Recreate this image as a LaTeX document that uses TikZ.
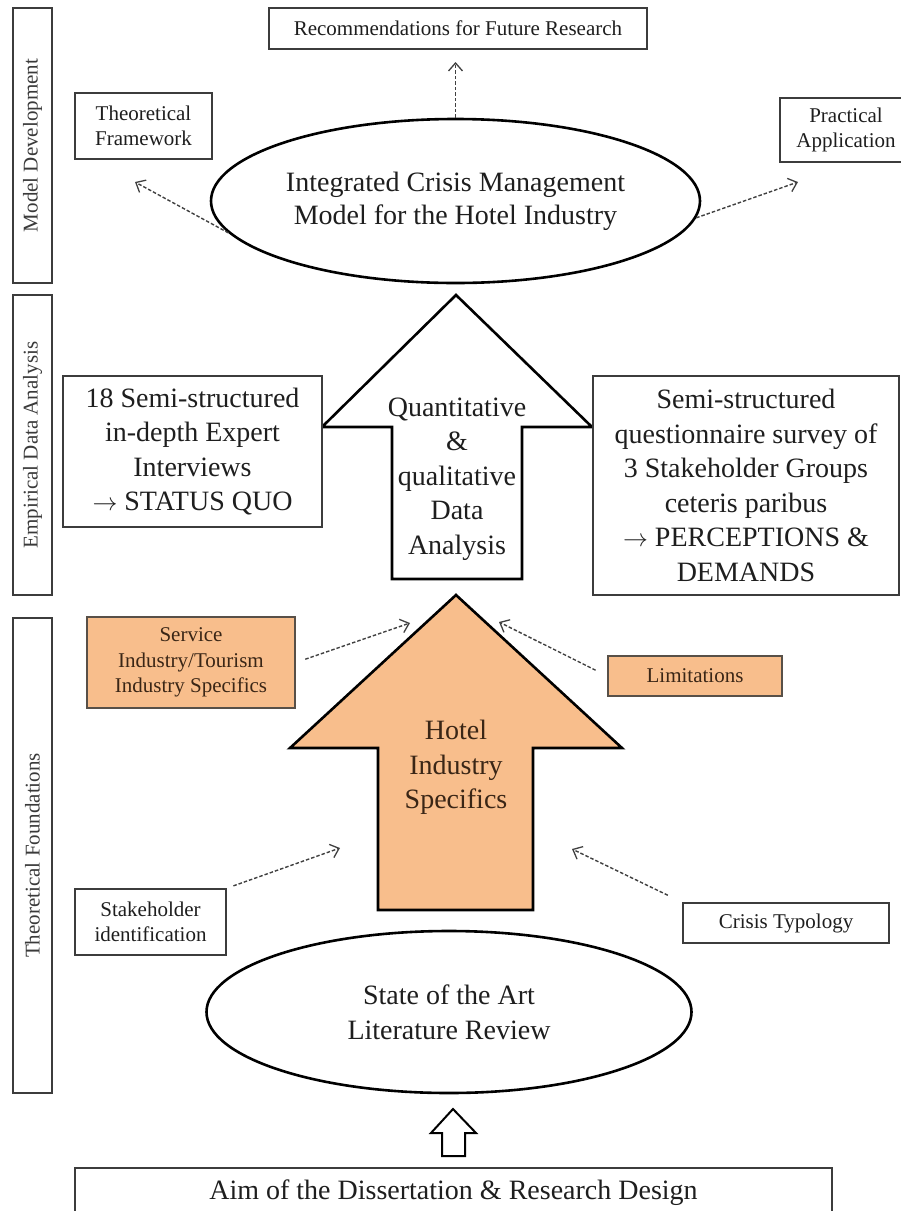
\documentclass[tikz,border=0pt]{standalone}
\usepackage{fontspec}
\setmainfont{Liberation Serif}
\usetikzlibrary{shapes.geometric,arrows.meta}
\definecolor{peach}{HTML}{F8BE8C}
\definecolor{peachtext}{HTML}{3A2616}
\definecolor{frame}{HTML}{3C3C3C}
\definecolor{ink}{HTML}{1E1E1E}
\definecolor{sidetext}{HTML}{3A3A3A}

\begin{document}
\begin{tikzpicture}[x=1pt,y=-1pt,
  big/.style={font=\fontsize{28}{34.5}\selectfont},
  small/.style={font=\fontsize{21}{25.5}\selectfont},
  box/.style={draw=frame, line width=1.6pt, fill=white, text=ink, align=center, inner sep=0pt},
  peachbox/.style={box, fill=peach, text=peachtext, draw=frame!85!peach},
  bandbox/.style={draw=frame, line width=1.6pt, fill=white},
  bandlabel/.style={small, text=sidetext, rotate=90},
  oval/.style={ellipse, draw=black, line width=2.6pt, fill=white, text=ink, align=center, inner sep=0pt},
  hollow/.style={draw=black, line width=2.6pt, line join=miter},
  hint/.style={draw=ink!85, line width=1.4pt, dash pattern=on 3.5pt off 2pt,
    -{Straight Barb[length=8pt,width=14pt,line width=1.3pt]}},
]
\useasboundingbox (0,0) rectangle (901,1211);
\clip (0,0) rectangle (901,1211);

% phase bands on the left
\node[bandbox, minimum width=39pt, minimum height=275pt] (bandM) at (32.5,145.5) {};
\node[bandlabel] (bandMtxt) at (bandM.center) {Model Development};
\node[bandbox, minimum width=39pt, minimum height=300pt] (bandE) at (32.5,445) {};
\node[bandlabel] (bandEtxt) at (bandE.center) {Empirical Data Analysis};
\node[bandbox, minimum width=39pt, minimum height=475pt] (bandT) at (32.5,855.5) {};
\node[bandlabel] (bandTtxt) at (bandT.center) {Theoretical Foundations};

% model development
\node[box, small, minimum width=378pt, minimum height=41pt] (rec) at (458,28.5) {Recommendations for Future Research};
\node[box, small, minimum width=137pt, minimum height=66pt] (tf) at (143.5,126) {Theoretical\\Framework};
\node[box, small, minimum width=132pt, minimum height=64pt] (pa) at (846,130) {Practical\\Application};
\node[oval, font=\fontsize{28}{33}\selectfont, minimum width=489pt, minimum height=164pt] (icm) at (455.5,201)
  {Integrated Crisis Management\\Model for the Hotel Industry};

\coordinate (tfend) at (135,182);
\coordinate (recend) at (455.5,62);
\coordinate (paend) at (798,182);
\draw[hint] (icm.188) -- (tfend);
\draw[hint] (icm.north) -- (recend);
\draw[hint] (icm.-4) -- (paend);

% empirical data analysis
\draw[hollow, fill=white] (456,295) -- (592,427) -- (522,427) -- (522,579) -- (392,579)
  -- (392,427) -- (322,427) -- cycle;
\node[big, text=ink, align=center] (analysis) at (457,479) {Quantitative\\\&\\qualitative\\Data\\Analysis};
\node[box, big, minimum width=259pt, minimum height=151pt] (interviews) at (192.5,451.5)
  {18 Semi-structured\\in-depth Expert\\Interviews\\$\rightarrow$ STATUS QUO};
\node[box, big, minimum width=306pt, minimum height=219pt] (survey) at (746,485.5)
  {Semi-structured\\questionnaire survey of\\3 Stakeholder Groups\\ceteris paribus\\$\rightarrow$ PERCEPTIONS \&\\DEMANDS};

% theoretical foundations
\draw[hollow, fill=peach] (456,595) -- (622,748) -- (533,748) -- (533,910) -- (378,910)
  -- (378,748) -- (290,748) -- cycle;
\node[big, text=peachtext, align=center] (hotel) at (456,767.5) {Hotel\\Industry\\Specifics};

\node[peachbox, small, minimum width=208pt, minimum height=91pt] (service) at (191,662.5)
  {Service\\Industry/Tourism\\Industry Specifics};
\node[peachbox, small, minimum width=174pt, minimum height=40pt] (limits) at (695,676) {Limitations};
\node[box, small, minimum width=151pt, minimum height=66pt] (stake) at (150.5,922) {Stakeholder\\identification};
\node[box, small, minimum width=206pt, minimum height=40pt] (crisis) at (786,923) {Crisis Typology};

\coordinate (svcend) at (410,623);
\coordinate (limend) at (499,622);
\coordinate (stkend) at (340,848);
\coordinate (crsend) at (572,849);
\draw[hint, shorten <=10pt] (service.east) -- (svcend);
\draw[hint, shorten <=13pt] (limits.west) -- (limend);
\draw[hint, shorten <=7pt] (stake.north east) -- (stkend);
\draw[hint, shorten <=16pt] (crisis.north west) -- (crsend);

\node[oval, font=\fontsize{28}{35}\selectfont, minimum width=485pt, minimum height=162pt] (sota) at (449,1012)
  {State of the Art\\Literature Review};

% starting point
\draw[draw=black, line width=2pt, fill=white, line join=miter] (453,1109) -- (476,1133) -- (465,1133)
  -- (465,1156) -- (442,1156) -- (442,1133) -- (431,1133) -- cycle;
\node[box, big, minimum width=757pt, minimum height=50pt] (aim) at (453.5,1193)
  {Aim of the Dissertation \& Research Design};
\end{tikzpicture}
\end{document}
